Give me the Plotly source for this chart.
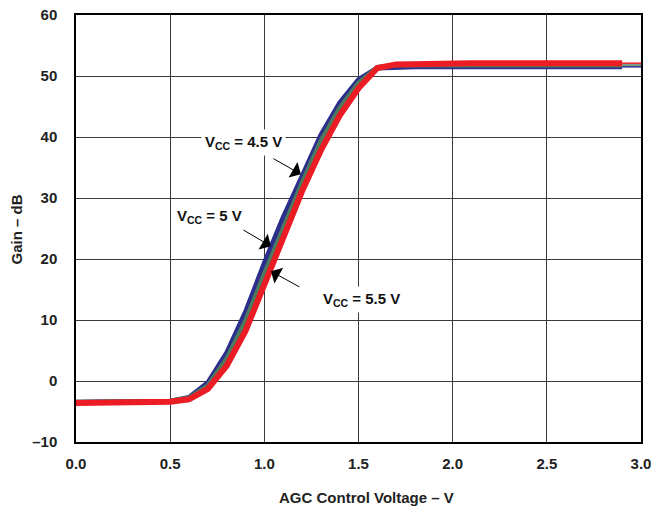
import plotly.graph_objects as go

# ---- data ----
agc_v = [0.0, 0.1, 0.2, 0.3, 0.4, 0.5, 0.6, 0.7, 0.8, 0.9, 1.0, 1.1, 1.2, 1.3, 1.4,
         1.5, 1.6, 1.7, 1.8, 1.9, 2.0, 2.1, 2.2, 2.3, 2.4, 2.5, 2.6, 2.7, 2.8, 2.9, 3.0]
gain_45 = [-3.5, -3.5, -3.5, -3.5, -3.4, -3.3, -2.7, -0.3, 4.6, 11.3, 19.3, 26.8, 33.5, 40.3, 45.6,
           49.4, 51.3, 51.5, 51.5, 51.5, 51.5, 51.5, 51.5, 51.5, 51.5, 51.5, 51.5, 51.5, 51.5, 51.5, 51.5]
gain_5 = [-3.5, -3.5, -3.4, -3.5, -3.4, -3.3, -2.8, -0.8, 3.6, 9.8, 17.5, 25.2, 32.4, 39.3, 44.7,
          48.8, 51.4, 51.8, 51.8, 51.8, 51.8, 51.8, 51.8, 51.8, 51.8, 51.8, 51.8, 51.8, 51.8, 51.8, 51.8]
gain_55 = [-3.6, -3.6, -3.5, -3.6, -3.5, -3.4, -3.0, -1.3, 2.5, 8.2, 15.8, 23.6, 31.1, 37.8, 43.5,
           48.0, 51.3, 51.9, 52.0, 52.0, 52.1, 52.1, 52.1, 52.1, 52.1, 52.1, 52.1, 52.1, 52.1, 52.1, 52.1]

x_ticks = [0.0, 0.5, 1.0, 1.5, 2.0, 2.5, 3.0]
x_ticktext = ["0.0", "0.5", "1.0", "1.5", "2.0", "2.5", "3.0"]
y_ticks = [-10, 0, 10, 20, 30, 40, 50, 60]
y_ticktext = ["\u201310", "0", "10", "20", "30", "40", "50", "60"]

series = [
    ("V<sub>CC</sub> = 4.5 V", gain_45, "#2B2E8C", 5),
    ("V<sub>CC</sub> = 5 V", gain_5, "#4C7A5C", 5),
    ("V<sub>CC</sub> = 5.5 V", gain_55, "#EC1C24", 6),
]

FONT = "Liberation Sans, Arial, sans-serif"

fig = go.Figure()
for name, ys, col, w in series:
    fig.add_trace(go.Scatter(x=agc_v[:-1], y=ys[:-1], mode="lines", name=name,
                             line=dict(color=col, width=w), showlegend=False))
for name, ys, col, w in series:
    fig.add_trace(go.Scatter(x=agc_v[-2:], y=ys[-2:], mode="lines",
                             line=dict(color=col, width=1.5), showlegend=False))

ann_font = dict(family=FONT, size=15, color="#111")
labels = [
    # text, text center x,y (data), arrow tail (data), arrow tip (data)
    ("<b>V<sub>CC</sub> = 4.5 V</b>", 0.888, 39.1, 1.040, 36.6, 1.194, 33.9),
    ("<b>V<sub>CC</sub> = 5 V</b>", 0.71, 26.9, 0.881, 24.9, 1.035, 22.1),
    ("<b>V<sub>CC</sub> = 5.5 V</b>", 1.516, 13.3, 1.194, 15.3, 1.035, 18.0),
]
for txt, tx, ty, ax0, ay0, hx, hy in labels:
    fig.add_annotation(x=tx, y=ty, xref="x", yref="y", text=txt, showarrow=False,
                       font=ann_font, bgcolor="white", borderpad=3)
    fig.add_annotation(x=hx, y=hy, ax=ax0, ay=ay0, xref="x", yref="y", axref="x", ayref="y",
                       text="", showarrow=True, arrowhead=1, arrowsize=3, arrowwidth=1,
                       arrowcolor="black", standoff=0)

W, H = 651, 512
L, R, T, B = 76, 10, 15, 70
pw, ph = W - L - R, H - T - B

# axis titles as annotations (pixel positions converted to paper coords)
fig.add_annotation(x=(366 - L) / pw, y=(H - B - 498) / ph, xref="paper", yref="paper",
                   xanchor="center", yanchor="middle",
                   text="<b>AGC Control Voltage \u2013 V</b>",
                   showarrow=False, font=dict(family=FONT, size=15, color="#222"))
fig.add_annotation(x=(15.5 - L) / pw, y=(H - B - 230) / ph, xref="paper", yref="paper",
                   xanchor="center", yanchor="middle",
                   text="<b>Gain \u2013 dB</b>", textangle=-90,
                   showarrow=False, font=dict(family=FONT, size=15, color="#222"))

fig.update_layout(
    width=W, height=H,
    margin=dict(l=L, r=R, t=T, b=B, autoexpand=False),
    paper_bgcolor="white", plot_bgcolor="white",
    font=dict(family=FONT, size=15, color="#222"),
    xaxis=dict(range=[0, 3], tickvals=x_ticks, ticktext=x_ticktext, automargin=False,
               showgrid=True, gridcolor="#3a3a3a", gridwidth=1,
               showline=True, linecolor="black", linewidth=1.5, mirror=True,
               zeroline=False, ticks="", ticklabelstandoff=7, ticklabeloverflow="allow",
               tickfont=dict(family=FONT, size=15, color="#222", weight="bold")),
    yaxis=dict(range=[-10, 60], tickvals=y_ticks, ticktext=y_ticktext, automargin=False,
               showgrid=True, gridcolor="#3a3a3a", gridwidth=1,
               showline=True, linecolor="black", linewidth=1.5, mirror=True,
               zeroline=False, ticks="", ticklabelstandoff=14, ticklabeloverflow="allow",
               tickfont=dict(family=FONT, size=15, color="#222", weight="bold")),
)

fig.write_html("out.html", config={"displayModeBar": False},
               post_script="document.body.style.margin='0';document.body.style.overflow='hidden';")
